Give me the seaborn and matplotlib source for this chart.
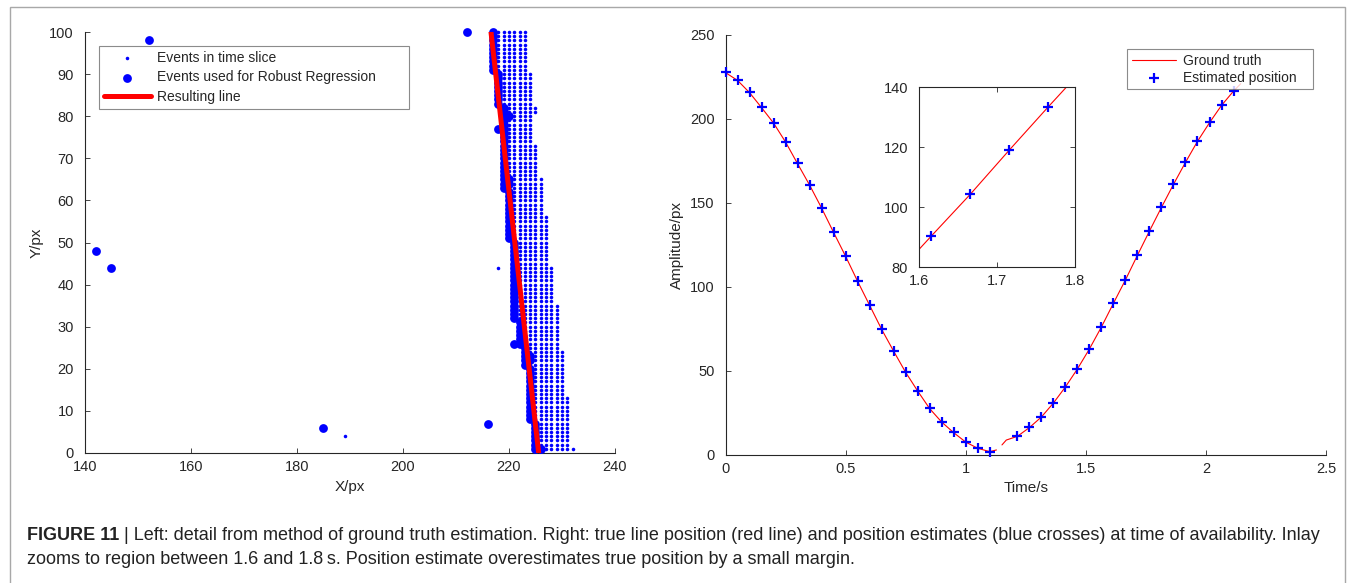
import matplotlib
matplotlib.use("Agg")
import matplotlib.pyplot as plt
import numpy as np
import pandas as pd
import seaborn as sns
from matplotlib.patches import Rectangle
from matplotlib.ticker import FuncFormatter

# ---------------- left panel: events in one time slice ----------------
# event grid columns (x pixel) and the highest row each column reaches
col_x = [217, 218, 219, 220, 221, 222, 223, 224, 225, 226, 227, 228, 229, 230, 231, 232]
col_top = [100, 100, 100, 100, 100, 100, 100, 90, 73, 65, 56, 44, 35, 24, 13, 1]

# leftmost event column for rows y = 1 .. 100 (these feed the robust regression)
row_first = ([226] + [225] * 6 + [224] * 13 + [223] * 5 + [222] * 6 +
             [221] * 19 + [220] * 12 + [219] * 20 + [218] * 8 + [217] * 10)

# isolated events in the slice
stray_x = [189, 218, 225, 225]
stray_y = [4, 44, 81, 82]

# additional events used for the regression (outliers and band extras)
used_x = [142, 145, 152, 185, 212, 216, 218, 221, 224, 224, 220, 220, 220, 225]
used_y = [48, 44, 98, 6, 100, 7, 77, 26, 23, 22, 64, 65, 80, 1]

# resulting robust-regression line
fit_y = [0, 100]
fit_x = [225.6, 216.6]

# ---------------- right panel: line position over time ----------------
est_t = [0.00, 0.05, 0.10, 0.15, 0.20, 0.25, 0.30, 0.35, 0.40, 0.45, 0.50, 0.55,
         0.60, 0.65, 0.70, 0.75, 0.80, 0.85, 0.90, 0.95, 1.00, 1.05, 1.10,
         1.215, 1.265, 1.315, 1.365, 1.415, 1.465, 1.515, 1.565, 1.615, 1.665,
         1.715, 1.765, 1.815, 1.865, 1.915, 1.965, 2.015, 2.065, 2.115]
est_v = [227.8, 223.2, 215.9, 207.0, 197.8, 186.5, 173.6, 160.9, 147.2, 132.7,
         118.5, 103.6, 89.3, 75.0, 62.0, 49.4, 38.3, 27.8, 19.8, 13.5, 7.9, 4.2, 2.0,
         11.3, 16.5, 22.8, 31.1, 40.7, 51.4, 63.3, 76.4, 90.5, 104.4,
         119.1, 133.5, 147.6, 161.3, 174.4, 186.9, 198.0, 208.3, 216.8]

gt1_t = [0.00, 0.05, 0.10, 0.15, 0.20, 0.25, 0.30, 0.35, 0.40, 0.45, 0.50, 0.55,
         0.60, 0.65, 0.70, 0.75, 0.80, 0.85, 0.90, 0.95, 1.00, 1.05, 1.10, 1.128]
gt1_v = [227.6, 223.0, 215.7, 206.8, 197.6, 186.3, 173.4, 160.7, 147.0, 132.5,
         118.3, 103.4, 89.1, 74.8, 61.8, 49.2, 38.1, 27.6, 19.6, 13.3, 7.7, 4.0, 2.0, 3.0]
gt2_t = [1.151, 1.169, 1.215, 1.265, 1.315, 1.365, 1.415, 1.465, 1.515, 1.565,
         1.615, 1.665, 1.715, 1.765, 1.815, 1.865, 1.915, 1.965, 2.015, 2.065,
         2.115, 2.145]
gt2_v = [6.0, 8.9, 11.1, 16.3, 22.6, 30.9, 40.5, 51.2, 63.1, 76.2,
         90.3, 104.2, 118.9, 133.3, 147.4, 161.1, 174.2, 186.7, 197.8, 208.1,
         216.6, 221.0]

# ---------------- styling ----------------
sns.set_theme(style="ticks")
plt.rcParams["font.family"] = ["Liberation Sans", "DejaVu Sans"]
AX_COL = "#262626"
plt.rcParams.update({
    "axes.edgecolor": AX_COL,
    "axes.labelcolor": AX_COL,
    "xtick.color": AX_COL,
    "ytick.color": AX_COL,
    "axes.linewidth": 0.8,
})

W, H = 1355, 583
fig = plt.figure(figsize=(W / 100, H / 100), dpi=100)
fig.patch.set_facecolor("white")


def px_axes(x0, y0, x1, y1):
    return [x0 / W, 1 - y1 / H, (x1 - x0) / W, (y1 - y0) / H]


def style_axes(ax, fs=10.5, box=False):
    ax.tick_params(direction="in", length=3.5, width=0.6, labelsize=fs,
                   top=box, right=box, pad=5)
    ax.tick_params(axis="y", pad=8)
    for s in ["top", "right"]:
        ax.spines[s].set_visible(box)
    ax.xaxis.set_major_formatter(FuncFormatter(lambda v, p: f"{v:g}"))
    ax.yaxis.set_major_formatter(FuncFormatter(lambda v, p: f"{v:g}"))


# ---------- left panel ----------
ax1 = fig.add_axes(px_axes(85, 32, 615, 453))
grid_x, grid_y = [], []
for y, first in zip(range(1, 101), row_first):
    for cx, top in zip(col_x, col_top):
        if cx >= first and top >= y:
            grid_x.append(cx)
            grid_y.append(y)
small = pd.DataFrame({"x": grid_x + stray_x, "y": grid_y + stray_y})
big = pd.DataFrame({"x": row_first + used_x, "y": list(range(1, 101)) + used_y})

sns.scatterplot(data=small, x="x", y="y", ax=ax1, color="#0000ff", s=6.5,
                linewidth=0, marker="o", label="Events in time slice", zorder=2,
                clip_on=False)
sns.scatterplot(data=big, x="x", y="y", ax=ax1, color="#0000ff", s=40,
                linewidth=0, marker="o", label="Events used for Robust Regression",
                zorder=3, clip_on=False)
sns.lineplot(x=fit_x, y=fit_y, ax=ax1, color="#ff0000", lw=3.6, sort=False,
             label="Resulting line", zorder=4)
ax1.set_xlim(140, 240)
ax1.set_ylim(0, 100)
ax1.set_xticks([140, 160, 180, 200, 220, 240])
ax1.set_yticks(range(0, 101, 10))
style_axes(ax1)
ax1.set_xlabel("X/px", fontsize=11, labelpad=4)
ax1.set_ylabel("Y/px", fontsize=11, labelpad=4)
leg1 = ax1.legend(loc="upper left", bbox_to_anchor=(0.0264, 0.9667, 0.585, 0.0),
                  mode="expand", borderaxespad=0, fontsize=10, frameon=True,
                  fancybox=False, edgecolor="#6e6e6e", handlelength=3.4,
                  handletextpad=0.4, labelspacing=0.4, borderpad=0.35,
                  scatterpoints=1)
leg1.get_frame().set_linewidth(0.8)

# ---------- right panel ----------
ax2 = fig.add_axes(px_axes(725.5, 35, 1326, 455))
sns.lineplot(x=gt1_t, y=gt1_v, ax=ax2, color="#ff0000", lw=0.8, label="Ground truth")
sns.lineplot(x=gt2_t, y=gt2_v, ax=ax2, color="#ff0000", lw=0.8)
sns.scatterplot(x=est_t, y=est_v, ax=ax2, color="#0000ff", marker="+", s=55,
                linewidth=1.6, label="Estimated position", zorder=3, clip_on=False)
ax2.set_xlim(0, 2.5)
ax2.set_ylim(0, 250)
ax2.set_xticks([0, 0.5, 1, 1.5, 2, 2.5])
ax2.set_yticks(range(0, 251, 50))
style_axes(ax2)
ax2.set_xlabel("Time/s", fontsize=11, labelpad=4)
ax2.set_ylabel("Amplitude/px", fontsize=11, labelpad=4)
leg2 = ax2.legend(loc="upper left", bbox_to_anchor=(0.6686, 0.9667, 0.31, 0.0),
                  mode="expand", borderaxespad=0, fontsize=10, frameon=True,
                  fancybox=False, edgecolor="#6e6e6e", handlelength=3.2,
                  handletextpad=0.45, labelspacing=0.2, borderpad=0.35,
                  scatterpoints=1)
leg2.get_frame().set_linewidth(0.8)
leg2.set_zorder(10)

# ---------- inset: 1.6 s to 1.8 s ----------
ax3 = fig.add_axes(px_axes(919.3, 87.3, 1075, 267.3))
ax3.set_facecolor("white")
sns.lineplot(x=gt2_t, y=gt2_v, ax=ax3, color="#ff0000", lw=0.8)
sns.scatterplot(x=est_t, y=est_v, ax=ax3, color="#0000ff", marker="+", s=55,
                linewidth=1.6, zorder=3)
ax3.set_xlim(1.6, 1.8)
ax3.set_ylim(80, 140)
ax3.set_xticks([1.6, 1.7, 1.8])
ax3.set_yticks([80, 100, 120, 140])
style_axes(ax3, box=True)
ax3.set_xlabel("")
ax3.set_ylabel("")
if ax3.get_legend() is not None:
    ax3.get_legend().remove()

# ---------- figure frame and caption ----------
fig.patches.append(Rectangle((10 / W, -0.05), (W - 20) / W, 1.05 - 7 / H,
                             transform=fig.transFigure, fill=False,
                             edgecolor="#a8a8a8", lw=1.0))

cap_col = "#222222"
cap_fs = 13.0
renderer = fig.canvas.get_renderer()
t_bold = fig.text(27 / W, 1 - 535 / H, "FIGURE 11", fontsize=cap_fs,
                  fontweight="bold", color=cap_col, va="center", ha="left")
bb = t_bold.get_window_extent(renderer=renderer)
fig.text(bb.x1 / W, 1 - 535 / H,
         " | Left: detail from method of ground truth estimation. Right: true line "
         "position (red line) and position estimates (blue crosses) at time of "
         "availability. Inlay",
         fontsize=cap_fs, color=cap_col, va="center", ha="left")
fig.text(27 / W, 1 - 560 / H,
         "zooms to region between 1.6 and 1.8\u2009s. Position estimate overestimates "
         "true position by a small margin.",
         fontsize=cap_fs, color=cap_col, va="center", ha="left")

fig.savefig("out.png", dpi=100, facecolor="white")
